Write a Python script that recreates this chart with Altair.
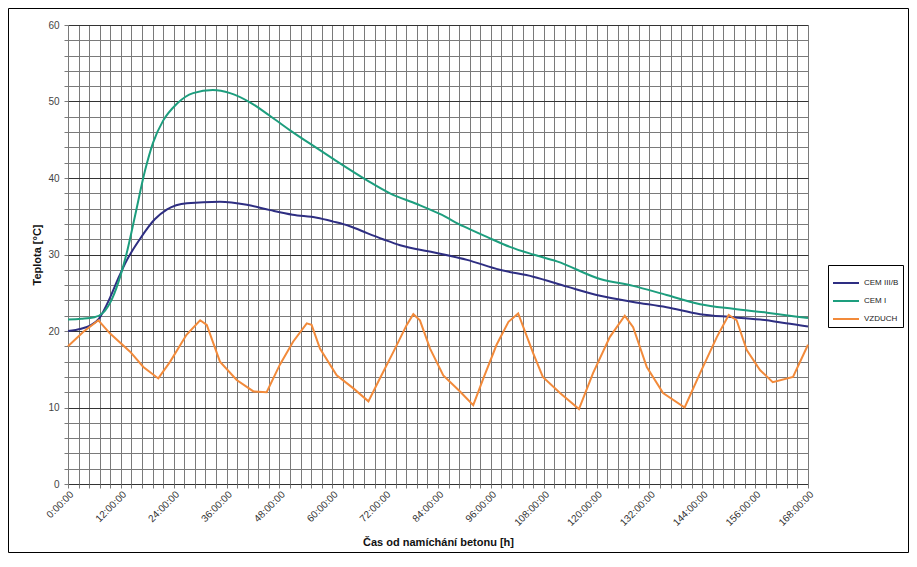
import altair as alt
import pandas as pd

series_names = ["CEM III/B", "CEM I", "VZDUCH"]
series_colors = ["#2e2e82", "#1d9e7e", "#f28a3a"]

cem3_hours = [0, 3, 5, 7, 9.5, 11.5, 13.4, 16.3, 19.7, 22.5, 27, 34.5, 40.6, 45.9, 51, 56.5,
              60.2, 64, 67.9, 71.5, 75.4, 82.9, 90.6, 98, 105.6, 113.3, 120.8, 128.3, 135.9,
              143.5, 151, 158.7, 163, 168]
cem3_temp = [20.0, 20.3, 20.7, 21.6, 24.3, 27.0, 29.3, 32.0, 34.6, 35.9, 36.7, 36.9, 36.5, 35.8,
             35.2, 34.8, 34.3, 33.7, 32.8, 32.0, 31.2, 30.3, 29.3, 28.0, 27.1, 25.8, 24.6, 23.8,
             23.1, 22.2, 21.8, 21.4, 21.0, 20.6]

cem1_hours = [0, 3, 6, 8, 10, 12, 13.5, 15.2, 17.5, 19.3, 21.6, 24.7, 28.4, 32.9, 36.8, 41.3,
              45.9, 51, 56.5, 60.2, 67.9, 73.1, 79.2, 84.4, 89.7, 95.1, 100.3, 105.6, 111,
              120.8, 128.3, 135.9, 143.5, 151, 158.7, 168]
cem1_temp = [21.5, 21.6, 21.8, 22.4, 24.2, 27.4, 30.6, 35.0, 41.0, 44.6, 47.5, 49.7, 51.1, 51.5,
             51.1, 49.9, 48.1, 46.0, 43.9, 42.5, 39.7, 38.0, 36.6, 35.3, 33.7, 32.3, 31.0, 30.0,
             29.1, 26.8, 25.9, 24.7, 23.5, 22.9, 22.4, 21.7]

air_hours = [0, 3.5, 6.9, 9.5, 14.1, 17.1, 20.5, 23.2, 26.9, 30.0, 31.5, 34.5, 38.3, 42.1, 45.1,
             48.1, 51.1, 54.2, 55.3, 57.2, 61.0, 64.8, 68.2, 70.8, 73.9, 76.9, 78.4, 79.9, 82.2,
             85.2, 89.0, 92.0, 94.3, 97.3, 100.0, 102.2, 105.6, 107.8, 111.7, 116.0, 119.2,
             123.0, 126.4, 128.3, 131.4, 135.1, 140.0, 143.5, 147.3, 150.0, 151.8, 154.1,
             157.1, 160.0, 164.6, 168.0]
air_temp = [18.0, 19.9, 21.4, 19.7, 17.3, 15.3, 13.8, 16.0, 19.5, 21.4, 20.8, 16.0, 13.6, 12.1,
            12.0, 15.6, 18.6, 21.0, 20.8, 17.7, 14.2, 12.5, 10.8, 13.8, 17.3, 20.8, 22.2, 21.4,
            17.7, 14.2, 12.1, 10.3, 13.8, 18.2, 21.2, 22.3, 17.1, 14.0, 11.9, 9.8, 14.5, 19.2,
            22.0, 20.5, 15.3, 11.9, 10.0, 14.5, 19.2, 22.1, 21.4, 17.5, 14.9, 13.3, 14.0, 18.2]

x_grid = [round(i * 2.4, 4) for i in range(71)]
y_grid = list(range(0, 61, 2))

rows = []
for name, hs, ts in [(series_names[0], cem3_hours, cem3_temp),
                     (series_names[1], cem1_hours, cem1_temp),
                     (series_names[2], air_hours, air_temp)]:
    for h, t in zip(hs, ts):
        rows.append({"series": name, "h": h, "t": t})
df = pd.DataFrame(rows)

FONT = "Liberation Sans"

x_enc = alt.X(
    "h:Q",
    scale=alt.Scale(domain=[0, 168], nice=False, zero=False),
    axis=alt.Axis(
        values=x_grid,
        labelExpr="abs(datum.value/12 - round(datum.value/12)) < 0.001 ? toString(round(datum.value)) + ':00:00' : ''",
        labelAngle=-45, labelAlign="right", labelBaseline="top",
        labelFontSize=10, labelColor="#333333", labelFont=FONT, labelPadding=1,
        labelOverlap=False,
        title="Čas od namíchání betonu [h]", titleFont=FONT, titleFontSize=11,
        titleFontWeight="bold", titleColor="#111111", titleY=58, titleBaseline="middle",
        grid=True, gridColor="#7a7a7a", gridWidth=1,
        ticks=True, tickSize=4, tickColor="#7a7a7a",
        domain=False,
    ),
)
y_enc = alt.Y(
    "t:Q",
    scale=alt.Scale(domain=[0, 60], nice=False),
    axis=alt.Axis(
        values=y_grid,
        labelExpr="datum.value % 10 === 0 ? datum.label : ''",
        labelFontSize=10, labelColor="#444444", labelFont=FONT, labelPadding=5,
        title="Teplota [°C]", titleFont=FONT, titleFontSize=11, titleFontWeight="bold",
        titleColor="#111111", titleX=-31, titleBaseline="middle",
        grid=True,
        gridColor={"condition": {"test": "datum.value % 10 === 0", "value": "#333333"}, "value": "#7a7a7a"},
        gridWidth=1,
        ticks=True, tickSize=4, tickColor="#7a7a7a",
        domain=False,
    ),
)
color_enc = alt.Color(
    "series:N",
    scale=alt.Scale(domain=series_names, range=series_colors),
    legend=alt.Legend(
        title=None, orient="none", legendX=760, legendY=240,
        symbolType="stroke", symbolSize=676, symbolStrokeWidth=2,
        labelFontSize=8, labelFont=FONT, labelColor="#222222",
        strokeColor="#000000", fillColor="#ffffff", padding=4, rowPadding=0,
        labelOffset=4,
    ),
)

base = alt.Chart(df).encode(x=x_enc, y=y_enc, color=color_enc)

curves = base.transform_filter("datum.series !== 'VZDUCH'").mark_line(
    interpolate="monotone", strokeWidth=2)
air = base.transform_filter("datum.series === 'VZDUCH'").mark_line(
    interpolate="linear", strokeWidth=2)

frame = alt.Chart(pd.DataFrame({"a": [0]})).mark_rect(
    fillOpacity=0, stroke="#000000", strokeWidth=1
).encode(
    x=alt.value(-59.5), x2=alt.value(840.5), y=alt.value(-16.5), y2=alt.value(527.5)
)

chart = alt.layer(curves, air, frame).properties(
    width=740, height=459,
    autosize=alt.AutoSizeParams(type="none"),
    padding={"left": 60, "top": 17, "right": 101, "bottom": 69},
    background="#ffffff",
).configure_view(strokeWidth=0)

chart.save("out.html", embed_options={"renderer": "svg", "actions": False})
